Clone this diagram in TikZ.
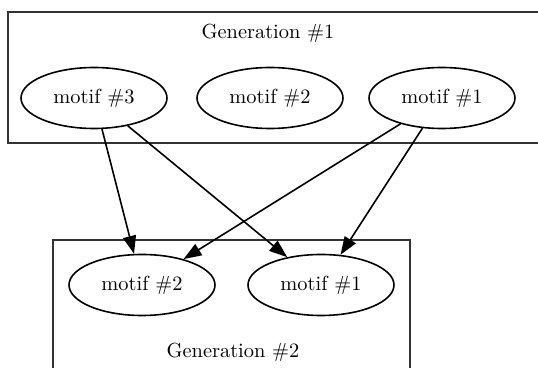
\documentclass[tikz,border=0pt]{standalone}
\usetikzlibrary{shapes}
\usetikzlibrary{arrows.meta}

\begin{document}
\begin{tikzpicture}[x=0.5pt,y=-0.5pt,>={Triangle[length=9pt,width=6.5pt]},
motif/.style={ ellipse,draw=black,line width=0.8pt,minimum width=73pt,minimum height=30.5pt,inner sep=0pt,font=\fontsize{10.2}{12}\selectfont
},
cim/.style={font=\fontsize{10.2}{12}\selectfont}]

\useasboundingbox (0,0) rectangle (538,368);
\clip (0,0) rectangle (538,368);

% the two generations
\draw[line width=0.8pt, draw=black!80] (8,12) rectangle (560,143);
\draw[line width=0.8pt, draw=black!80] (53,240) rectangle (410,390);

\node[cim](gen-1) at (268,33){Generation \#1};
\node[motif](m3) at (94,98){motif \#3};
\node[motif](m2) at (270,98){motif \#2};
\node[motif](m1) at (442,98){motif \#1};

\node[motif](n2) at (142,285){motif \#2};
\node[motif](n1) at (321,285){motif \#1};
\node[cim](gen-2) at (233,352){Generation \#2};

\begin{scope}[->, line width=0.8pt]
\draw (m3)--(n2);
\draw (m3)--(n1);
\draw (m1)--(n2);
\draw (m1)--(n1);
\end{scope}

\end{tikzpicture}
\end{document}
